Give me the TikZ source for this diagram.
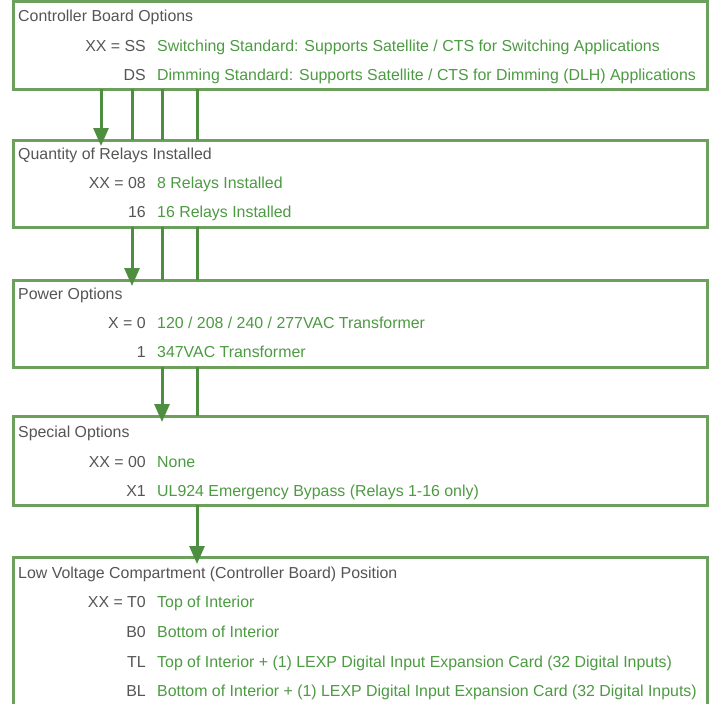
\documentclass[tikz,border=0pt]{standalone}
\usepackage{fontspec}
\setmainfont{Liberation Sans}
\usetikzlibrary{arrows.meta}
\definecolor{boxgreen}{RGB}{108,160,92}
\definecolor{arrgreen}{RGB}{78,142,64}
\definecolor{txtgreen}{RGB}{76,154,66}
\definecolor{txtgray}{RGB}{85,85,85}
\tikzset{
  box/.style={draw=boxgreen, line width=3pt, fill=none},
  title/.style={anchor=base west, inner sep=0pt, text=txtgray, font=\fontsize{15.9}{18}\selectfont},
  code/.style={anchor=base east, inner sep=0pt, text=txtgray, font=\fontsize{15.9}{18}\selectfont},
  desc/.style={anchor=base west, inner sep=0pt, text=txtgreen, font=\fontsize{15.9}{18}\selectfont},
  arr/.style={draw=arrgreen, line width=3pt, -{Triangle[width=15pt,length=18pt]}},
  link/.style={draw=arrgreen, line width=3pt},
}
\begin{document}
\begin{tikzpicture}[x=1pt,y=-1pt]
\useasboundingbox (0,0) rectangle (716,704);
\clip (0,0) rectangle (716,704);
% box edges
\coordinate (b1s) at (360,89);
\coordinate (b2n) at (360,140);
\coordinate (b2s) at (360,227);
\coordinate (b3n) at (360,280);
\coordinate (b3s) at (360,367);
\coordinate (b4n) at (360,416);
\coordinate (b4s) at (360,505);
\coordinate (b5n) at (360,557);
% boxes
\draw[box] (13,1) rectangle (707,89);
\draw[box] (13,140) rectangle (707,227);
\draw[box] (13,280) rectangle (707,367);
\draw[box] (13,416) rectangle (707,505);
\draw[box] (13,557) rectangle (707,730);
% column coordinates
\coordinate (c1) at (101,0);
\coordinate (c2) at (132,0);
\coordinate (c3) at (162,0);
\coordinate (c4) at (197,0);
% connectors 1 -> 2
\draw[arr] (b1s -| c1) -- ([yshift=-6pt]b2n -| c1);
\draw[link] (b1s -| c2) -- (b2n -| c2);
\draw[link] (b1s -| c3) -- (b2n -| c3);
\draw[link] (b1s -| c4) -- (b2n -| c4);
% 2 -> 3
\draw[arr] (b2s -| c2) -- ([yshift=-6pt]b3n -| c2);
\draw[link] (b2s -| c3) -- (b3n -| c3);
\draw[link] (b2s -| c4) -- (b3n -| c4);
% 3 -> 4
\draw[arr] (b3s -| c3) -- ([yshift=-6pt]b4n -| c3);
\draw[link] (b3s -| c4) -- (b4n -| c4);
% 4 -> 5
\draw[arr] (b4s -| c4) -- ([yshift=-7pt]b5n -| c4);
% texts box 1
\node[title] (t1) at (18,21) {Controller Board Options};
\node[code] (k11) at (146,51) {XX = SS};
\node[desc] (d11) at (157,51) {Switching Standard: Supports Satellite / CTS for Switching Applications};
\node[code] (k12) at (146,80.5) {DS};
\node[desc] (d12) at (157,80.5) {Dimming Standard: Supports Satellite / CTS for Dimming (DLH) Applications};
% box 2
\node[title] (t2) at (18,159) {Quantity of Relays Installed};
\node[code] (k21) at (146,188.5) {XX = 08};
\node[desc] (d21) at (157,188.5) {8 Relays Installed};
\node[code] (k22) at (146,217.5) {16};
\node[desc] (d22) at (157,217.5) {16 Relays Installed};
% box 3
\node[title] (t3) at (18,299) {Power Options};
\node[code] (k31) at (146,328.5) {X = 0};
\node[desc] (d31) at (157,328.5) {120 / 208 / 240 / 277VAC Transformer};
\node[code] (k32) at (146,357.5) {1};
\node[desc] (d32) at (157,357.5) {347VAC Transformer};
% box 4
\node[title] (t4) at (18,437.5) {Special Options};
\node[code] (k41) at (146,467.5) {XX = 00};
\node[desc] (d41) at (157,467.5) {None};
\node[code] (k42) at (146,496.5) {X1};
\node[desc] (d42) at (157,496.5) {UL924 Emergency Bypass (Relays 1-16 only)};
% box 5
\node[title] (t5) at (18,578) {Low Voltage Compartment (Controller Board) Position};
\node[code] (k51) at (146,607.5) {XX = T0};
\node[desc] (d51) at (157,607.5) {Top of Interior};
\node[code] (k52) at (146,637.5) {B0};
\node[desc] (d52) at (157,637.5) {Bottom of Interior};
\node[code] (k53) at (146,667) {TL};
\node[desc] (d53) at (157,667) {Top of Interior + (1) LEXP Digital Input Expansion Card (32 Digital Inputs)};
\node[code] (k54) at (146,696) {BL};
\node[desc] (d54) at (157,696) {Bottom of Interior + (1) LEXP Digital Input Expansion Card (32 Digital Inputs)};
\end{tikzpicture}
\end{document}
